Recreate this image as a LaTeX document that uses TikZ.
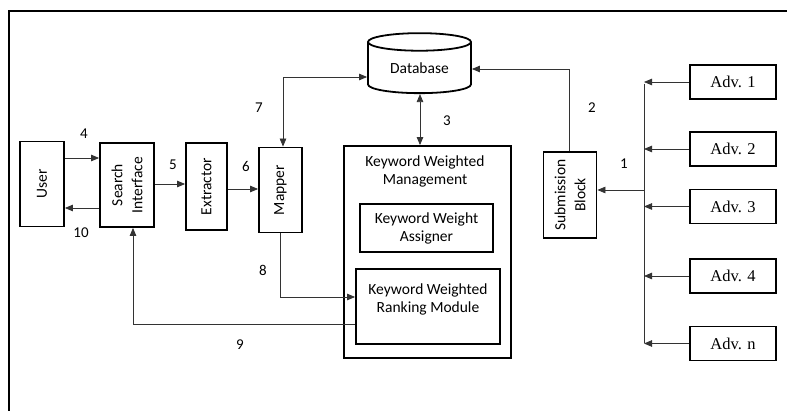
\documentclass[tikz,border=0pt]{standalone}
\usepackage{fontspec}
\setmainfont{Carlito}
\newfontfamily\advfont{Liberation Serif}
\usetikzlibrary{arrows.meta}
\usetikzlibrary{positioning}
\usetikzlibrary{shapes.geometric}
\tikzset{block/.style = {draw, line width=1.8pt, inner sep=0, align=center,
                         font=\fontsize{15.5}{20}\selectfont}}
\tikzset{vblock/.style = {block, rotate=90}}
\tikzset{adv/.style = {draw, line width=1.8pt, minimum width=86, minimum height=34,
                       inner sep=0, font=\advfont\fontsize{16.5}{18}\selectfont}}
\tikzset{conn/.style = {line width=0.8pt, draw=black!80,
                        >={Triangle[length=8pt,width=6.5pt]}}}
\tikzset{num/.style = {inner sep=0, font=\fontsize{15}{17}\selectfont}}

\begin{document}
\begin{tikzpicture}[x=1pt, y=-1pt]
      \useasboundingbox (0,0) rectangle (787,411);
      \draw [line width=1.8pt] (9,411) -- (9,11) -- (787,11);
      % left chain (rotated: north = left side, east = top side)
      \node (user) [vblock, minimum width=85, minimum height=44] at (42,184) {User};
      \node (search) [vblock, minimum width=84, minimum height=54] at (127,185) {Search\\Interface};
      \node (extractor) [vblock, minimum width=87, minimum height=41] at (206.5,186.5) {Extractor};
      \node (mapper) [vblock, minimum width=85, minimum height=43] at (280.5,190) {Mapper};
      % storage and management
      \node (db) [cylinder, draw, line width=1.8pt, shape border rotate=90, aspect=0.3,
                  minimum width=103, minimum height=60, inner sep=0,
                  font=\fontsize{15.5}{18}\selectfont] at (419.5,68) {Database};
      \node (kwm) [block, minimum width=167, minimum height=212] at (427.5,252) {};
      \node (kwmlabel) [align=center, inner sep=0, font=\fontsize{15.5}{17.5}\selectfont]
            at (425,171.5) {Keyword Weighted\\Management};
      \node (kwa) [block, minimum width=133, minimum height=48, font=\fontsize{15.5}{18}\selectfont]
            at (426.5,228) {Keyword Weight\\Assigner};
      \node (kwr) [block, minimum width=144, minimum height=75] at (428,306.5) {};
      \node (kwrlabel) [align=center, inner sep=0, font=\fontsize{15.5}{18}\selectfont]
            at (428,299) {Keyword Weighted\\Ranking Module};
      \node (sub) [vblock, minimum width=86, minimum height=53] at (570,195) {Submission\\Block};
      % advertisers
      \node (adv1) [adv] at (733,82) {Adv. 1};
      \node (adv2) [adv] at (733,149) {Adv. 2};
      \node (adv3) [adv] at (733,206.5) {Adv. 3};
      \node (adv4) [adv] at (733,276) {Adv. 4};
      \node (advn) [adv] at (733,343.5) {Adv. n};
      \coordinate (bustop) at (644,84);
      \coordinate (busbot) at (644,343);
      \draw [conn] (bustop) -- (busbot);
      \foreach \a in {adv1, adv2, adv3, adv4, advn}
        \draw [conn, ->] (\a.west) -- (\a.west -| bustop);
      \draw [conn, ->] (bustop |- 0,190) -- (sub.south |- 0,190);
      \draw [conn, ->] ([xshift=-1]sub.east) |- (db.east |- 0,69);
      \draw [conn, <->] (db.south -| 420,0) -- (kwm.north -| 420,0);
      \draw [conn, <->] ([xshift=2.5]mapper.east) |- (db.west |- 0,77);
      % query path
      \draw [conn, ->] (user.south |- 0,158) -- (search.north |- 0,158);
      \draw [conn, ->] (search.north |- 0,208) -- (user.south |- 0,208);
      \draw [conn, ->] (search.south |- 0,184) -- (extractor.north |- 0,184);
      \draw [conn, ->] (extractor.south |- 0,189) -- (mapper.north |- 0,189);
      \draw [conn, ->] ([xshift=-0.5]mapper.west) |- (kwr.west |- 0,297);
      \draw [conn, ->] (kwr.west |- 0,324) -| ([xshift=6]search.west);
      % step numbers
      \node (n1) [num] at (624,164) {1};
      \node (n2) [num] at (592,108) {2};
      \node (n3) [num] at (447,121) {3};
      \node (n4) [num] at (84,134) {4};
      \node (n5) [num] at (173,165) {5};
      \node (n6) [num] at (246,166) {6};
      \node (n7) [num] at (259,108) {7};
      \node (n8) [num] at (263,270) {8};
      \node (n9) [num] at (240,345) {9};
      \node (n10) [num] at (81,233) {10};
    \end{tikzpicture}
\end{document}
